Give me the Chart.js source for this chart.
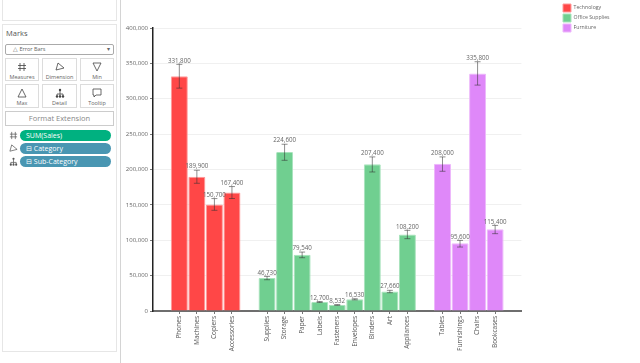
<!DOCTYPE html>
<html>
<head>
<meta charset="utf-8">
<script src="https://cdn.jsdelivr.net/npm/chart.js@4"></script>
<style>
  html, body { margin: 0; padding: 0; background: #fff; overflow: hidden; }
  body { width: 640px; height: 363px; position: relative; font-family: "Open Sans", sans-serif; }
  #wrap { position: absolute; left: 0; top: 0; width: 640px; height: 363px; }
  #side { position: absolute; left: 0; top: 0; width: 121px; height: 363px; background: #fff; border-right: 1px solid #d4d4d4; box-sizing: border-box; }
  .box { position: absolute; left: 2px; width: 115px; border: 1px solid #e6e6e6; box-sizing: border-box; }
  .cell { position: absolute; border: 1px solid #dcdcdc; box-sizing: border-box; font-size: 5.5px; color: #666; text-align: center; background: #fff; }
  .cell svg { display: block; margin: 3px auto 1px; }
  .pill { position: absolute; left: 20px; width: 91px; height: 11px; border-radius: 6px; color: #fff; font-size: 7px; line-height: 11px; padding-left: 6px; box-sizing: border-box; }
  .sym { position: absolute; left: 9px; width: 9px; height: 9px; }
</style>
</head>
<body>
<div id="wrap"><canvas id="chart" width="640" height="363"></canvas></div>
<div id="side">
  <div class="box" style="top:-2px;height:23px"></div>
  <div class="box" style="top:24px;height:328px"></div>
  <div style="position:absolute;left:6px;top:28px;font-size:7.5px;color:#555">Marks</div>
  <div class="cell" style="left:5px;top:44px;width:109px;height:11px;text-align:left;padding-left:7px;line-height:9px;border-color:#aaa;border-radius:2px">&#9651; Error Bars<span style="position:absolute;right:3px;top:0">&#9662;</span></div>
  <div class="cell" style="left:5px;top:58px;width:34px;height:23px"><svg width="10" height="10" viewBox="0 0 10 10"><path d="M3 1V9M7 1V9M1 3.5H9M1 6.5H9" stroke="#444" fill="none" stroke-width=".8"/></svg>Measures</div>
  <div class="cell" style="left:42px;top:58px;width:35px;height:23px"><svg width="10" height="10" viewBox="0 0 10 10"><path d="M3 1L9 6L1 8Z" stroke="#444" fill="none" stroke-width=".8"/></svg>Dimension</div>
  <div class="cell" style="left:80px;top:58px;width:34px;height:23px"><svg width="10" height="10" viewBox="0 0 10 10"><path d="M1 1H9L5 9Z" stroke="#444" fill="none" stroke-width=".8"/></svg>Min</div>
  <div class="cell" style="left:5px;top:84px;width:34px;height:24px"><svg width="10" height="10" viewBox="0 0 10 10"><path d="M1 9H9L5 1Z" stroke="#444" fill="none" stroke-width=".8"/></svg>Max</div>
  <div class="cell" style="left:42px;top:84px;width:35px;height:24px"><svg width="10" height="10" viewBox="0 0 10 10"><path d="M5 3V6M2 8V6H8V8M5 6V8" stroke="#444" fill="none" stroke-width=".8"/><circle cx="5" cy="2" r="1.2" fill="#444"/><circle cx="2" cy="8.5" r="1.2" fill="#444"/><circle cx="5" cy="8.5" r="1.2" fill="#444"/><circle cx="8" cy="8.5" r="1.2" fill="#444"/></svg>Detail</div>
  <div class="cell" style="left:80px;top:84px;width:34px;height:24px"><svg width="10" height="10" viewBox="0 0 10 10"><path d="M1 1H9V7H4L2 9V7H1Z" stroke="#444" fill="none" stroke-width=".8"/></svg>Tooltip</div>
  <div class="cell" style="left:5px;top:111px;width:109px;height:15px;font-size:7.5px;line-height:13px;color:#888;border-color:#ccc">Format Extension</div>
  <svg class="sym" style="top:131px" viewBox="0 0 10 10"><path d="M3 1V9M7 1V9M1 3.5H9M1 6.5H9" stroke="#555" fill="none" stroke-width=".8"/></svg>
  <div class="pill" style="top:130px;background:#00b180">SUM(Sales)</div>
  <svg class="sym" style="top:144px" viewBox="0 0 10 10"><path d="M3 1L9 6L1 8Z" stroke="#555" fill="none" stroke-width=".8"/></svg>
  <div class="pill" style="top:143px;background:#4996b2">&#8863; Category</div>
  <svg class="sym" style="top:157px" viewBox="0 0 10 10"><path d="M5 3V6M2 8V6H8V8M5 6V8" stroke="#555" fill="none" stroke-width=".8"/><circle cx="5" cy="2" r="1.2" fill="#555"/><circle cx="2" cy="8.5" r="1.2" fill="#555"/><circle cx="5" cy="8.5" r="1.2" fill="#555"/><circle cx="8" cy="8.5" r="1.2" fill="#555"/></svg>
  <div class="pill" style="top:156px;background:#4996b2">&#8863; Sub-Category</div>
</div>
<script>
// blank slots keep the gaps between the three groups
const categories = ['', 'Phones', 'Machines', 'Copiers', 'Accessories', '', 'Supplies', 'Storage', 'Paper', 'Labels', 'Fasteners', 'Envelopes', 'Binders', 'Art', 'Appliances', '', 'Tables', 'Furnishings', 'Chairs', 'Bookcases', ''];
const technology = [null, 331800, 189900, 150700, 167400, null, null, null, null, null, null, null, null, null, null, null, null, null, null, null, null];
const officeSupplies = [null, null, null, null, null, null, 46730, 224600, 79540, 12700, 8532, 16530, 207400, 27660, 108200, null, null, null, null, null, null];
const furniture = [null, null, null, null, null, null, null, null, null, null, null, null, null, null, null, null, 208000, 95600, 335800, 115400, null];
const errorLow = [null, 315000, 180500, 142300, 159000, null, 44200, 213000, 75300, 12000, 8000, 15700, 196500, 25900, 102200, null, 197500, 90400, 319300, 109300, null];
const errorHigh = [null, 348600, 199000, 158900, 175900, null, 48900, 235700, 83300, 13400, 9000, 17300, 217800, 29200, 114000, null, 217800, 99800, 352300, 121000, null];
const tickValues = [0, 50000, 100000, 150000, 200000, 250000, 300000, 350000, 400000];

// error bars and the value above them
const errorBars = {
  id: 'errorBars',
  afterDatasetsDraw(chart) {
    const ctx = chart.ctx;
    const x = chart.scales.x;
    const y = chart.scales.y;
    ctx.save();
    categories.forEach(function (name, i) {
      if (errorLow[i] === null) return;
      const px = x.getPixelForValue(i);
      const top = y.getPixelForValue(errorHigh[i]);
      const bottom = y.getPixelForValue(errorLow[i]);
      ctx.strokeStyle = 'rgba(50,50,50,0.55)';
      ctx.lineWidth = 1;
      ctx.beginPath();
      ctx.moveTo(px, top);
      ctx.lineTo(px, bottom);
      ctx.moveTo(px - 3, top);
      ctx.lineTo(px + 3, top);
      ctx.moveTo(px - 3, bottom);
      ctx.lineTo(px + 3, bottom);
      ctx.stroke();
      const value = technology[i] ?? officeSupplies[i] ?? furniture[i];
      ctx.fillStyle = '#666';
      ctx.font = '6.2px "Open Sans"';
      ctx.textAlign = 'center';
      ctx.textBaseline = 'bottom';
      ctx.fillText(value.toLocaleString('en-US'), px, top - 0.5);
    });
    ctx.restore();
  }
};

// legend sits apart from the plot, top right corner
const legendSpot = {
  id: 'legendSpot',
  afterLayout(chart) {
    const legend = chart.legend;
    const w = legend.right - legend.left;
    const h = legend.bottom - legend.top;
    legend.left = 561;
    legend.right = 561 + w;
    legend.top = 2;
    legend.bottom = 2 + h;
  }
};

function barSet(label, data, fill, edge) {
  return {
    label: label,
    data: data,
    backgroundColor: fill,
    borderColor: edge,
    borderWidth: 1,
    borderRadius: 1,
    categoryPercentage: 1,
    barPercentage: 0.97
  };
}

new Chart(document.getElementById('chart'), {
  type: 'bar',
  data: {
    labels: categories,
    datasets: [
      barSet('Technology', technology, '#ff4747', '#ff9a9a'),
      barSet('Office Supplies', officeSupplies, '#70cf90', '#a8e3bc'),
      barSet('Furniture', furniture, '#df88f9', '#edb8fb')
    ]
  },
  plugins: [errorBars, legendSpot],
  options: {
    responsive: false,
    animation: false,
    layout: { padding: { top: 28, right: 60, bottom: 0, left: 0 } },
    plugins: {
      tooltip: { enabled: false },
      legend: {
        position: 'right',
        align: 'start',
        onClick: null,
        labels: { boxWidth: 8, boxHeight: 8, padding: 2, color: '#666', font: { family: 'Open Sans', size: 5.2 } }
      }
    },
    scales: {
      x: {
        stacked: true,
        afterFit(scale) { scale.height = 52; },
        grid: {
          offset: false,
          drawOnChartArea: false,
          tickLength: 3,
          tickColor: function (c) { return c.tick && c.tick.label ? '#777' : 'transparent'; }
        },
        border: { color: '#6e6e6e', width: 2 },
        ticks: { autoSkip: false, maxRotation: 90, minRotation: 90, padding: 2, color: '#555', font: { family: 'Open Sans', size: 6.5 } }
      },
      y: {
        stacked: true,
        min: 0,
        max: 400000,
        afterFit(scale) { scale.width = 153; },
        afterBuildTicks(scale) { scale.ticks = tickValues.map(function (v) { return { value: v }; }); },
        grid: { color: '#f0f0f0', tickColor: '#777', tickLength: 3 },
        border: { color: '#222', width: 1.5 },
        ticks: { padding: 2, color: '#666', font: { family: 'Open Sans', size: 6 }, callback: function (v) { return v.toLocaleString('en-US'); } }
      }
    }
  }
});
</script>
</body>
</html>
